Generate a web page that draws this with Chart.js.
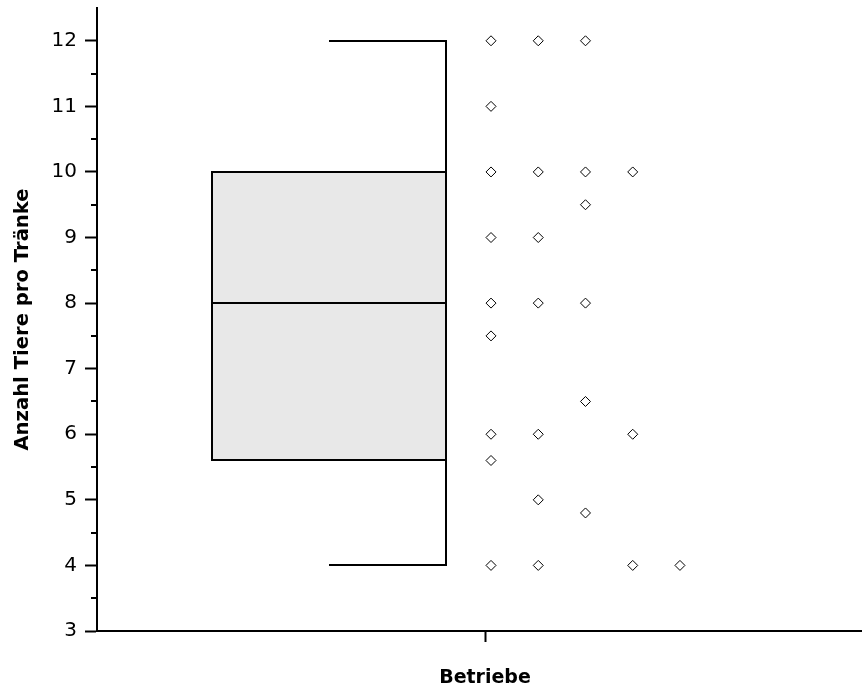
<!DOCTYPE html>
<html><head><meta charset="utf-8">
<script src="https://cdn.jsdelivr.net/npm/chart.js@4/dist/chart.umd.min.js"></script>
<style>html,body{margin:0;padding:0;background:#fff}#wrap{width:862px;height:688px;position:relative}</style>
</head><body><div id="wrap"><canvas id="c" width="862" height="688"></canvas></div>
<script>
// ---- data ----
const categories = ['Betriebe'];
const yTickValues = [3, 4, 5, 6, 7, 8, 9, 10, 11, 12];
const yMinorTickValues = [3.5, 4.5, 5.5, 6.5, 7.5, 8.5, 9.5, 10.5, 11.5];
const boxValues = [4, 5.6, 8, 10, 12]; // whisker low, Q1, median, Q3, whisker high
const column1 = [12, 11, 10, 9, 8, 7.5, 6, 5.6, 4];
const column2 = [12, 10, 9, 8, 6, 5, 4];
const column3 = [12, 10, 9.5, 8, 6.5, 4.8];
const column4 = [10, 6, 4];
const column5 = [4];
const columns = [column1, column2, column3, column4, column5];

// ---- layout helpers (category at x = 1) ----
const CAT_X = 1;
const BOX_CENTER = CAT_X - 0.408;
const BOX_HALF = 0.306;
const PT_START = CAT_X + 0.0157;
const PT_STEP = 0.1235;

const FONT = "'DejaVu Sans', sans-serif";

const datasets = columns.map((col, i) => ({
  type: 'scatter',
  data: col.map(v => ({x: PT_START + i * PT_STEP, y: v})),
  pointStyle: 'rectRot',
  pointRadius: 5,
  pointHoverRadius: 5,
  borderWidth: 1,
  borderColor: '#000',
  backgroundColor: '#fff',
  showLine: false
}));

const halfBoxPlugin = {
  id: 'halfBox',
  beforeDatasetsDraw(chart) {
    const {ctx, scales: {x, y}} = chart;
    const [lo, q1, med, q3, hi] = boxValues;
    const xl = Math.round(x.getPixelForValue(BOX_CENTER - BOX_HALF));
    const xr = Math.round(x.getPixelForValue(BOX_CENTER + BOX_HALF));
    const xc = Math.round(x.getPixelForValue(BOX_CENTER));
    const yq1 = Math.round(y.getPixelForValue(q1));
    const yq3 = Math.round(y.getPixelForValue(q3));
    const ym = Math.round(y.getPixelForValue(med));
    const ylo = Math.round(y.getPixelForValue(lo));
    const yhi = Math.round(y.getPixelForValue(hi));
    ctx.save();
    ctx.fillStyle = '#e8e8e8';
    ctx.fillRect(xl, yq3, xr - xl, yq1 - yq3);
    ctx.strokeStyle = '#000';
    ctx.lineWidth = 2;
    ctx.lineJoin = 'miter';
    ctx.strokeRect(xl, yq3, xr - xl, yq1 - yq3);
    ctx.beginPath();
    ctx.moveTo(xl, ym); ctx.lineTo(xr, ym);
    // upper whisker
    ctx.moveTo(xc, yhi); ctx.lineTo(xr, yhi); ctx.lineTo(xr, yq3);
    // lower whisker
    ctx.moveTo(xr, yq1); ctx.lineTo(xr, ylo); ctx.lineTo(xc, ylo);
    ctx.stroke();
    ctx.restore();
  },
  afterDraw(chart) {
    const {ctx, scales: {y}, chartArea} = chart;
    ctx.save();
    ctx.strokeStyle = '#000';
    ctx.lineWidth = 2;
    ctx.beginPath();
    yMinorTickValues.forEach(v => {
      const py = Math.round(y.getPixelForValue(v));
      ctx.moveTo(chartArea.left - 6, py);
      ctx.lineTo(chartArea.left, py);
    });
    ctx.stroke();
    ctx.restore();
  }
};

new Chart(document.getElementById('c'), {
  type: 'scatter',
  data: {datasets},
  plugins: [halfBoxPlugin],
  options: {
    responsive: false,
    devicePixelRatio: 1,
    animation: false,
    events: [],
    layout: {autoPadding: false, padding: {top: 8, right: 0, left: 0, bottom: 0}},
    plugins: {legend: {display: false}, tooltip: {enabled: false}},
    scales: {
      x: {
        type: 'linear',
        min: -0.0144,
        max: 1.9856,
        afterBuildTicks: s => { s.ticks = [{value: CAT_X}]; },
        afterFit: s => { s.height = 57; s.paddingLeft = 0; s.paddingRight = 0; },
        ticks: {callback: (v, i) => categories[i], color: '#000',
                font: {family: FONT, size: 19, weight: 'bold'}, padding: 25, maxRotation: 0},
        grid: {drawOnChartArea: false, drawTicks: true, tickLength: 11, tickColor: '#000', tickWidth: 2},
        border: {display: true, color: '#000', width: 2},
        title: {display: false}
      },
      y: {
        type: 'linear',
        min: 3,
        max: 12.5,
        afterBuildTicks: s => { s.ticks = yTickValues.map(v => ({value: v})); },
        afterFit: s => { s.width = 97; s.paddingTop = 0; s.paddingBottom = 0; },
        ticks: {color: '#000', font: {family: FONT, size: 20}, padding: 8,
                callback: v => String(v)},
        grid: {drawOnChartArea: false, drawTicks: true, tickLength: 12, tickColor: '#000', tickWidth: 2},
        border: {display: true, color: '#000', width: 2},
        title: {display: true, text: 'Anzahl Tiere pro Tränke', color: '#000',
                font: {family: FONT, size: 19.6, weight: 'bold'}, padding: {top: 11, bottom: 0}}
      }
    }
  }
});
</script>
</body></html>
